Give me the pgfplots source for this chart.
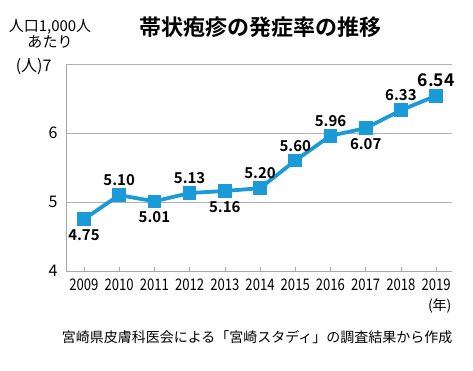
\documentclass[border=0pt]{standalone}
\usepackage{graphicx}
\usepackage{pgfplots}
\pgfplotsset{compat=1.18}
\usepackage{fontspec}
\setmainfont{Noto Sans CJK JP}
\newfontfamily\boldjp{Noto Sans CJK JP Bold}
\definecolor{lineblue}{HTML}{1B9AD8}
\newcommand{\cx}[1]{\scalebox{0.82}[1]{#1}}
\pgfplotstableread{
x y
2009 4.75
2010 5.10
2011 5.01
2012 5.13
2013 5.16
2014 5.20
2015 5.60
2016 5.96
2017 6.07
2018 6.33
2019 6.54
}\datatable
\begin{document}
\begin{tikzpicture}
\path[use as bounding box] (0pt,0pt) rectangle (473pt,370pt);
\begin{axis}[
  at={(66pt,99pt)}, anchor=south west,
  scale only axis, width=386pt, height=207pt,
  xmin=2008.49, xmax=2019.45, ymin=4, ymax=7,
  axis x line*=bottom, axis y line*=left,
  axis line style={gray!70, line width=0.6pt},
  xtick={2009,...,2019}, ytick={4,5,6,7},
  xticklabels={\cx{2009},\cx{2010},\cx{2011},\cx{2012},\cx{2013},\cx{2014},\cx{2015},\cx{2016},\cx{2017},\cx{2018},\cx{2019}},
  yticklabels={4,5,6,},
  x tick label style={font=\fontsize{16}{16}\selectfont, yshift=-4pt},
  y tick label style={font=\fontsize{16}{16}\selectfont, xshift=-5pt},
  xtick style={gray!70, line width=0.5pt}, major tick length=4pt, tick align=inside,
  ytick style={draw=none},
  ymajorgrids, grid style={gray!60, line width=0.6pt},
  clip=false,
  /pgf/number format/.cd, fixed, fixed zerofill, precision=2, assume math mode=true,
]
\addplot[lineblue, line width=3.8pt, mark=square*, mark size=6.3pt, mark options={line width=0pt}]
table[x=x, y=y] {\datatable};
% labels below
\addplot[draw=none, mark=none, nodes near coords,
  every node near coord/.append style={font=\boldjp\fontsize{15}{15}\selectfont, anchor=north, inner sep=0pt, yshift=-10pt, text=black}]
coordinates {(2009,4.75) (2011,5.01) (2013,5.16) (2017,6.07)};
% labels above
\addplot[draw=none, mark=none, nodes near coords,
  every node near coord/.append style={font=\boldjp\fontsize{15}{15}\selectfont, anchor=south, inner sep=0pt, yshift=9pt, text=black}]
coordinates {(2010,5.10) (2012,5.13) (2014,5.20) (2015,5.60) (2016,5.96) (2018,6.33)};
\addplot[draw=none, mark=none, nodes near coords,
  every node near coord/.append style={font=\boldjp\fontsize{17.5}{17.5}\selectfont, anchor=south, inner sep=0pt, yshift=9pt, text=black}]
coordinates {(2019,6.54)};
\end{axis}
\node[font=\fontsize{16}{16}\selectfont, anchor=base east] at (55pt,298pt) {(人)7};
\node[font=\fontsize{15}{16}\selectfont, align=center] at (50pt,336pt) {人口1,000人\\あたり};
\node[font=\boldjp\fontsize{22}{22}\selectfont] at (260pt,343pt) {帯状疱疹の発症率の推移};
\node[font=\fontsize{14}{14}\selectfont, anchor=east] at (455pt,64pt) {(年)};
\node[font=\fontsize{14}{14}\selectfont, anchor=east] at (456pt,33pt) {宮崎県皮膚科医会による「宮崎スタディ」の調査結果から作成};
\end{tikzpicture}
\end{document}
